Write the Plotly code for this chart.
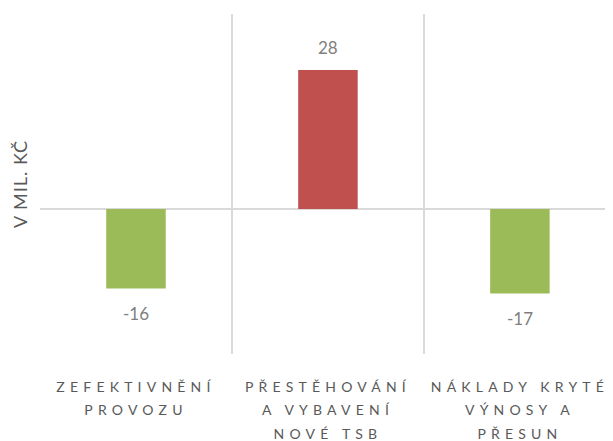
import plotly.graph_objects as go

# Data
categories = [
    ["ZEFEKTIVNĚNÍ", "PROVOZU"],
    ["PŘESTĚHOVÁNÍ", "A VYBAVENÍ", "NOVÉ TSB"],
    ["NÁKLADY KRYTÉ", "VÝNOSY A", "PŘESUN"],
]
values = [-16, 28, -17]
bar_colors = ["#9BBB59", "#C0504D", "#9BBB59"]
y_title = "V MIL. KČ"

_LABEL_GRAY = "#595959"
_VALUE_GRAY = "#7F7F7F"
_GRID = "#D9D9D9"
_FONT = "Lato, Open Sans, sans-serif"

# the page body keeps its default 8px margin, so the figure is 8px smaller
# than the window and the margins are trimmed by the same amount
_BODY = 8


def _spaced(line: str, spacing: float = 5.2, size: float = 14) -> str:
    return f'<span style="letter-spacing:{spacing}px;font-size:{size}px">{line}</span>'


x_keys = [str(i) for i in range(len(categories))]
tick_text = ["<br>".join(_spaced(line) for line in lines) for lines in categories]

fig = go.Figure()
fig.add_trace(
    go.Bar(
        x=x_keys,
        y=values,
        marker={"color": bar_colors, "line": {"width": 0}},
        width=0.31,
        hoverinfo="skip",
    )
)

# data labels placed beyond the end of each bar
for key, v in zip(x_keys, values):
    fig.add_annotation(
        x=key,
        y=v,
        text=str(v),
        showarrow=False,
        yanchor="bottom" if v >= 0 else "top",
        yshift=10 if v >= 0 else -13,
        font={"size": 17, "color": _VALUE_GRAY, "family": _FONT},
    )

fig.update_layout(
    width=613 - _BODY,
    height=441 - _BODY,
    margin={"l": 40 - _BODY, "r": 0, "t": 14 - _BODY, "b": 87},
    plot_bgcolor="white",
    paper_bgcolor="white",
    showlegend=False,
    font={"family": _FONT, "color": _LABEL_GRAY},
    xaxis={
        "type": "category",
        "range": [-0.5, 2.485],
        "tickvals": x_keys,
        "ticktext": tick_text,
        "tickson": "boundaries",
        "showgrid": True,
        "gridcolor": _GRID,
        "gridwidth": 2,
        "ticks": "",
        "showline": False,
        "zeroline": False,
        "automargin": False,
        "tickfont": {"size": 18, "color": _LABEL_GRAY},
        "ticklabelstandoff": 19,
    },
    yaxis={
        "range": [-29.2, 39.3],
        "showgrid": False,
        "showticklabels": False,
        "ticks": "",
        "zeroline": True,
        "zerolinecolor": _GRID,
        "zerolinewidth": 2,
        "showline": False,
        "automargin": False,
        "title": {
            "text": f'<span style="letter-spacing:1px">{y_title}</span>',
            "font": {"size": 18, "color": _LABEL_GRAY},
            "standoff": 6,
        },
    },
)

fig.write_html("out.html")
